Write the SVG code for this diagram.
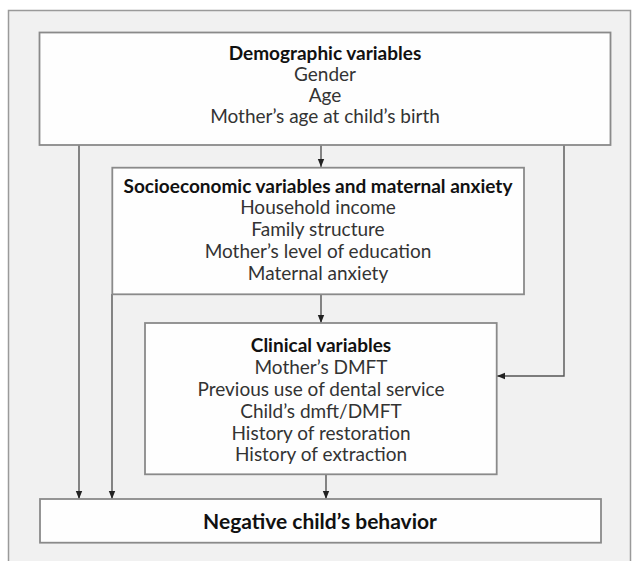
<svg xmlns="http://www.w3.org/2000/svg" width="634" height="561" viewBox="0 0 634 561">
<defs>
<marker id="arr" viewBox="0 0 8 8" refX="8" refY="4" markerWidth="8" markerHeight="8" markerUnits="userSpaceOnUse" orient="auto">
<path d="M0,0.8 L8,4 L0,7.2 Z" fill="#222"/>
</marker>
</defs>
<style>
.frame{fill:#f1f1f1;stroke:#9a9a9a;stroke-width:1.5}
.box{fill:#fefefe;stroke:#8a8a8a;stroke-width:1.8}
.conn{fill:none;stroke:#555;stroke-width:1.4;marker-end:url(#arr)}
text{font-family:Lato,"Liberation Sans",sans-serif;text-anchor:middle;dominant-baseline:central}
.t{font-weight:bold;font-size:19px;fill:#111}
.r{font-size:19px;fill:#333}
.big{font-weight:bold;font-size:21px;fill:#111}
</style>
<rect class="frame" x="8.5" y="10.5" width="622" height="560"/>
<g id="connectors">
<path class="conn" d="M321,145 V167"/>
<path class="conn" d="M79,145 V499"/>
<path class="conn" d="M564,145 V376 H497"/>
<path class="conn" d="M112,294 V499"/>
<path class="conn" d="M321,294 V323"/>
<path class="conn" d="M326,474 V499"/>
</g>
<g id="demographic">
<rect class="box" x="39.5" y="32.5" width="571" height="112.5"/>
<text class="t" x="325" y="52">Demographic variables</text>
<text class="r" x="325" y="73">Gender</text>
<text class="r" x="325" y="94">Age</text>
<text class="r" x="325" y="115">Mother’s age at child’s birth</text>
</g>
<g id="socioeconomic">
<rect class="box" x="112.3" y="167.7" width="411.7" height="126.6"/>
<text class="t" x="318" y="185">Socioeconomic variables and maternal anxiety</text>
<text class="r" x="318" y="206">Household income</text>
<text class="r" x="318" y="228">Family structure</text>
<text class="r" x="318" y="250">Mother’s level of education</text>
<text class="r" x="318" y="272">Maternal anxiety</text>
</g>
<g id="clinical">
<rect class="box" x="145" y="323" width="351.7" height="151.3"/>
<text class="t" x="321" y="344">Clinical variables</text>
<text class="r" x="321" y="366">Mother’s DMFT</text>
<text class="r" x="321" y="388">Previous use of dental service</text>
<text class="r" x="321" y="410">Child’s dmft/DMFT</text>
<text class="r" x="321" y="432">History of restoration</text>
<text class="r" x="321" y="453">History of extraction</text>
</g>
<g id="negative">
<rect class="box" x="40" y="499" width="561" height="43.7"/>
<text class="big" x="320" y="520">Negative child’s behavior</text>
</g>
</svg>
